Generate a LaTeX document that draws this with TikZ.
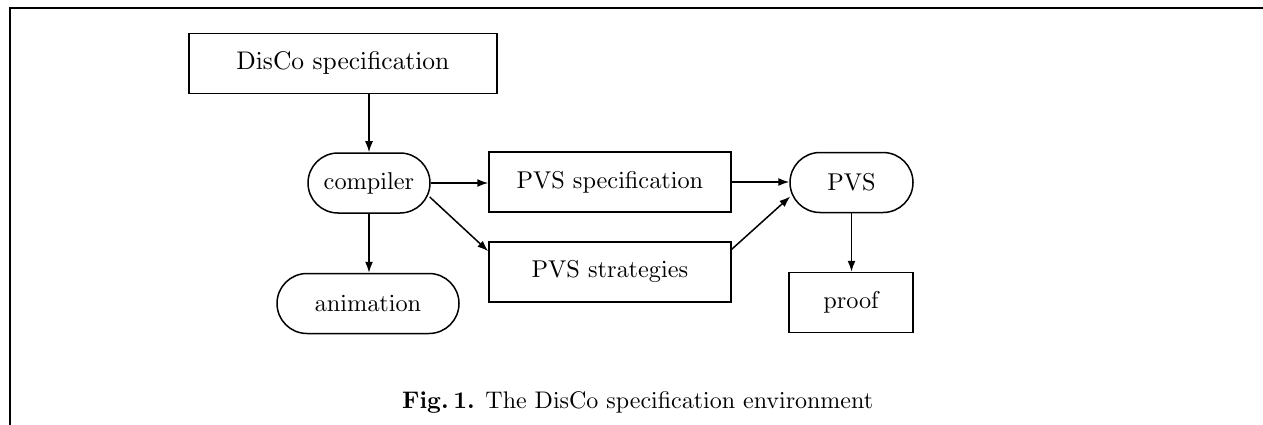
\documentclass[tikz,border=0pt]{standalone}
\usetikzlibrary{arrows.meta,shapes.misc,calc}
\font\nodefnt=cmr10 at 24.3pt
\font\discofnt=cmr10 at 25.5pt
\font\capfnt=cmr10 at 24pt
\font\capbffnt=cmbx10 at 24pt
\begin{document}
\begin{tikzpicture}[x=1pt,y=-1pt,
  every node/.style={font=\nodefnt, inner sep=0pt},
  sqbox/.style={draw, line width=1.5pt, rectangle, minimum height=60pt},
  rndbox/.style={draw, line width=1.5pt, rounded rectangle, minimum height=60pt},
  conn/.style={line width=1.5pt, -{Latex[length=11pt,width=8pt]}},
  frameline/.style={line width=2.2pt}]
\useasboundingbox (0,0) rectangle (1263,425);
\coordinate (ftl) at (10,8);
\coordinate (ftr) at (1263,8);
\coordinate (fbl) at (10,425);
\draw[frameline] (ftr) -- (ftl) -- (fbl);

\node[sqbox, minimum width=308pt, font=\discofnt] (disco) at (343,63.5) {DisCo specification};
\node[rndbox, minimum width=122pt] (compiler) at (369,183) {compiler};
\node[sqbox, minimum width=242pt] (pvsspec) at (610,182) {PVS specification};
\node[sqbox, minimum width=242pt] (pvsstrat) at (610,272) {PVS strategies};
\node[rndbox, minimum width=123pt] (pvs) at (851.5,182.5) {PVS};
\node[sqbox, minimum width=124pt] (proof) at (851,302.5) {proof};
\node[rndbox, minimum width=182pt] (animation) at (368,303.5) {animation};

\node[font=\capfnt, anchor=base west] (caption) at (402,408) {{\capbffnt Fig.\,1.} The DisCo specification environment};

\draw[conn] (disco.south -| compiler.north) -- (compiler.north);
\draw[conn] (compiler.south) -- (compiler.south |- animation.north);
\draw[conn] (compiler.east) -- (compiler.east -| pvsspec.west);
\draw[conn] ($(compiler.east)+(-1,14)$) -- ($(pvsstrat.north west)+(0,10)$);
\draw[conn] ($(pvsstrat.north east)+(0,8)$) -- ($(pvs.west)+(1,14)$);
\draw[conn] (pvsspec.east) -- (pvsspec.east -| pvs.west);
\draw[conn] (pvs.south) -- (pvs.south |- proof.north);
\end{tikzpicture}
\end{document}
